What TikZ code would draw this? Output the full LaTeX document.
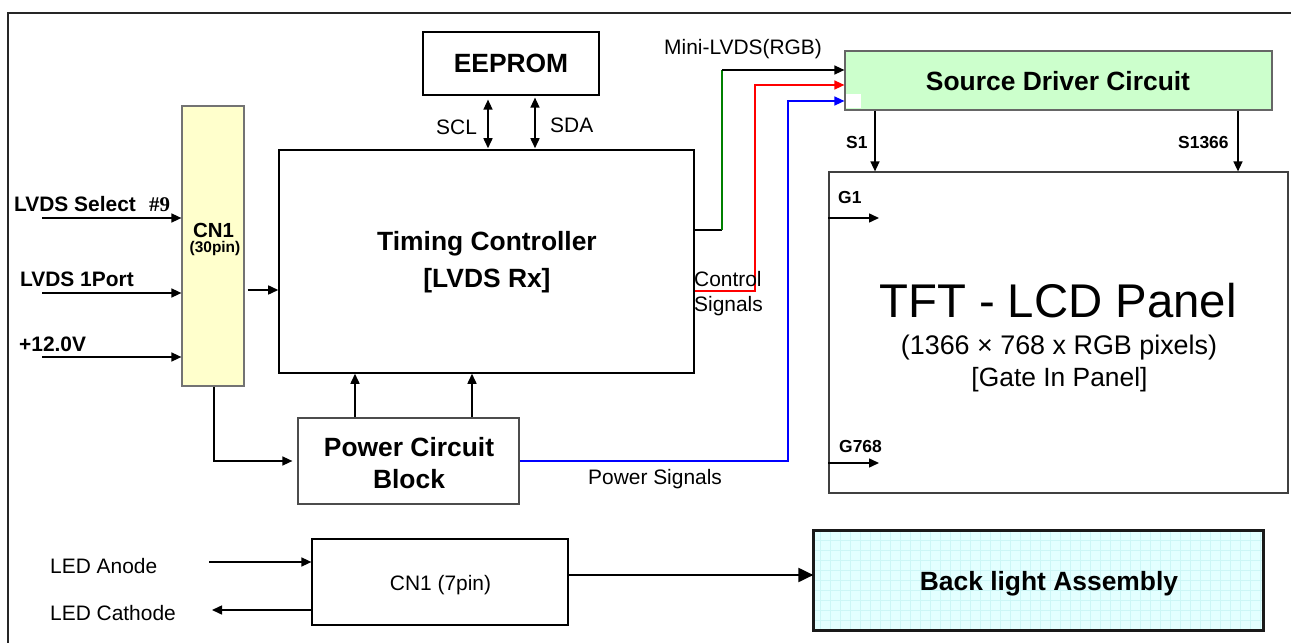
\documentclass[tikz,border=0pt]{standalone}
\usepackage{fontspec}
\setmainfont{Liberation Sans}
\newfontfamily\serifb{Liberation Serif}
\usetikzlibrary{arrows.meta}
\definecolor{cnyellow}{HTML}{FFFFCC}
\definecolor{sdgreen}{HTML}{CCFFCC}
\definecolor{blcyan}{HTML}{E3FFFF}
\definecolor{blgrid}{HTML}{CCF6F6}
\definecolor{lgreen}{HTML}{008000}
\begin{document}
\begin{tikzpicture}[x=1bp,y=-1bp,
  arr/.style={line width=1.5bp,-{Triangle[length=10bp,width=9bp]}},
  dblarr/.style={line width=1.5bp,{Triangle[length=10bp,width=9bp]}-{Triangle[length=10bp,width=9bp]}},
  boxs/.style={rectangle,inner sep=0pt,line width=1.2bp},
  lbl/.style={inner sep=0pt,anchor=base west,font=\fontsize{21}{25}\selectfont},
  lblb/.style={inner sep=0pt,anchor=base west,font=\bfseries\fontsize{21}{25}\selectfont},
  lbls/.style={inner sep=0pt,anchor=base west,font=\bfseries\fontsize{17.5}{21}\selectfont},
  ttl/.style={inner sep=0pt,anchor=base,font=\bfseries\fontsize{26.5}{30}\selectfont},
  txt/.style={inner sep=0pt,anchor=base,font=\fontsize{21}{25}\selectfont}]
\useasboundingbox (0,0) rectangle (1291,643);
% outer frame
\draw[line width=2bp,black!85] (8,643) -- (8,13) -- (1291,13);

% boxes
\node[boxs,draw=black,fill=white,minimum width=176bp,minimum height=63bp] (eeprom) at (511,63.5) {};
\node[boxs,draw=black,line width=1.5bp,minimum width=415bp,minimum height=223bp] (tc) at (486.5,261.5) {};
\node[boxs,draw=black!55,fill=cnyellow,minimum width=62bp,minimum height=280bp] (cn1) at (213,246) {};
\node[boxs,draw=black!70,fill=white,minimum width=221bp,minimum height=86bp] (pcb) at (408.5,461) {};
\node[boxs,draw=black!60,fill=sdgreen,minimum width=427bp,minimum height=59bp] (sdc) at (1058.5,80.5) {};
\fill[white] (846,94.5) rectangle (861,108);
\node[boxs,draw=black!75,fill=white,minimum width=459bp,minimum height=321bp] (tft) at (1058.5,332.5) {};
\node[boxs,draw=black,fill=white,minimum width=256bp,minimum height=86bp] (cn7) at (440,582) {};
\node[boxs,fill=blcyan,minimum width=449bp,minimum height=99bp] (bla) at (1038.5,580.5) {};
\begin{scope}
\clip (bla.north west) rectangle (bla.south east);
\draw[blgrid,line width=0.5bp,step=10bp] (bla.north west) grid (bla.south east);
\end{scope}
\draw[line width=3bp,black!90] (bla.north west) rectangle (bla.south east);

% box texts
\node[ttl] (teeprom) at (511,73) {EEPROM};
\node[ttl] (ttc1) at (487,251) {Timing Controller};
\node[ttl] (ttc2) at (487,288) {[LVDS Rx]};
\node[inner sep=0pt,anchor=base,font=\bfseries\fontsize{20.5}{24}\selectfont] (tcn1a) at (213.5,238) {CN1};
\node[inner sep=0pt,anchor=base,font=\bfseries\fontsize{15.5}{18}\selectfont] (tcn1b) at (215,253) {(30pin)};
\node[ttl] (tsdc) at (1058,91) {Source Driver Circuit};
\node[ttl] (tpcb1) at (409,456) {Power Circuit};
\node[ttl] (tpcb2) at (409,488) {Block};
\node[txt] (tcn7) at (440.5,590) {CN1 (7pin)};
\node[ttl] (tbla) at (1049,590) {Back light Assembly};
\node[inner sep=0pt,anchor=base,font=\fontsize{47.5}{52}\selectfont] (ttft1) at (1058,318) {TFT - LCD Panel};
\node[inner sep=0pt,anchor=base,font=\fontsize{27}{30}\selectfont] (ttft2) at (1059,355) {(1366 × 768 x RGB pixels)};
\node[inner sep=0pt,anchor=base,font=\fontsize{26.5}{30}\selectfont] (ttft3) at (1059.5,387) {[Gate In Panel]};

% EEPROM links
\coordinate (sclx) at (488,0);
\coordinate (sdax) at (535,0);
\draw[dblarr,shorten <=4bp,shorten >=1bp] (eeprom.south -| sclx) -- (tc.north -| sclx);
\draw[dblarr,shorten <=2bp,shorten >=1bp] (eeprom.south -| sdax) -- (tc.north -| sdax);
\node[lbl] (tscl) at (436,135) {SCL};
\node[lbl] (tsda) at (550,133) {SDA};

% inputs to CN1
\coordinate (in1) at (42,218);
\coordinate (in2) at (42,293);
\coordinate (in3) at (42,357);
\draw[arr] (in1) -- (in1 -| cn1.west);
\draw[arr] (in2) -- (in2 -| cn1.west);
\draw[arr] (in3) -- (in3 -| cn1.west);
\node[lblb] (tin1) at (14,212) {LVDS Select};
\node[inner sep=0pt,anchor=base west,font=\serifb\bfseries\fontsize{21}{25}\selectfont] (tin1b) at (149,212) {\#9};
\node[lblb] (tin2) at (20,287) {LVDS 1Port};
\node[lblb] (tin3) at (19,352) {+12.0V};

% CN1 -> TC, CN1 -> PCB
\coordinate (c2t) at (0,290);
\draw[arr,shorten <=3bp] (cn1.east |- c2t) -- (tc.west |- c2t);
\coordinate (c2p) at (214,0);
\draw[arr,shorten >=5bp] (cn1.south -| c2p) |- (pcb.west);

% PCB -> TC
\coordinate (p1) at (355,0);
\coordinate (p2) at (472,0);
\draw[arr] (pcb.north -| p1) -- (tc.south -| p1);
\draw[arr] (pcb.north -| p2) -- (tc.south -| p2);

% signals to source driver
\coordinate (gx) at (722,70);
\coordinate (gy) at (0,230);
\draw[line width=1.5bp] (tc.east |- gy) -- (gx |- gy);
\draw[line width=1.5bp,lgreen] (gx |- gy) -- (gx);
\draw[arr] (gx) -- (gx -| sdc.west);
\coordinate (rd) at (755,85);
\coordinate (ry) at (0,291);
\draw[arr,red] (tc.east |- ry) -| (rd) -- (rd -| sdc.west);
\coordinate (bl) at (788,101);
\draw[arr,blue] (pcb.east) -| (bl) -- (bl -| sdc.west);
\node[lbl] (tmini) at (664,55) {Mini-LVDS(RGB)};
\node[lbl] (tctl1) at (694,287) {Control};
\node[lbl] (tctl2) at (694,312) {Signals};
\node[lbl] (tpws) at (588,484) {Power Signals};

% source driver -> panel
\coordinate (s1x) at (875,0);
\coordinate (s2x) at (1238,0);
\draw[arr] (sdc.south -| s1x) -- (tft.north -| s1x);
\draw[arr] (sdc.south -| s2x) -- (tft.north -| s2x);
\node[lbls] (ts1) at (846,149) {S1};
\node[lbls] (ts2) at (1178,149) {S1366};

% gate arrows
\coordinate (g1) at (879,218);
\coordinate (g2) at (879,463);
\draw[arr] (tft.west |- g1) -- (g1);
\draw[arr] (tft.west |- g2) -- (g2);
\node[lbls] (tg1) at (838,204) {G1};
\node[lbls] (tg2) at (839,452) {G768};

% LED
\coordinate (la) at (209,562);
\coordinate (lc) at (212,610);
\draw[arr] (la) -- (la -| cn7.west);
\draw[arr] (lc -| cn7.west) -- (lc);
\node[lbl] (tla) at (50,573) {LED Anode};
\node[lbl] (tlc) at (50,620) {LED Cathode};

% CN1(7pin) -> backlight
\coordinate (cb) at (0,575);
\draw[line width=2bp,-{Triangle[length=15bp,width=14bp]}] (cn7.east |- cb) -- (bla.west |- cb);
\end{tikzpicture}
\end{document}
